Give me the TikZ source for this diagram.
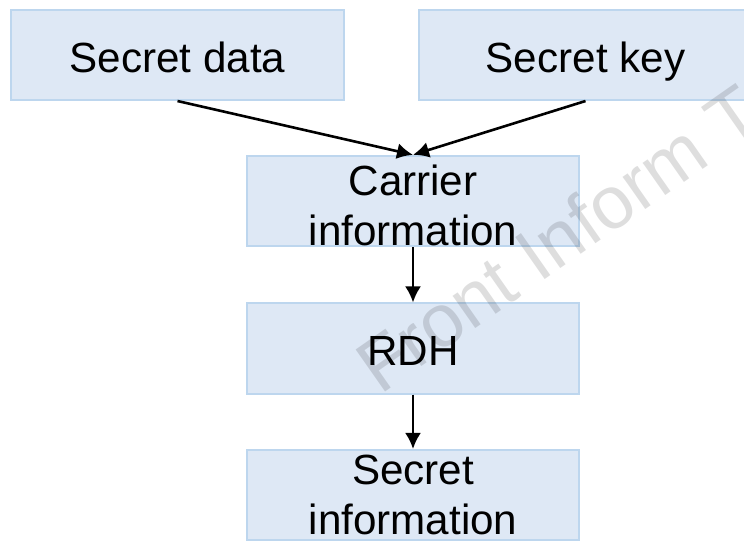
\documentclass[tikz,border=0pt]{standalone}
\usepackage{fontspec}
\setmainfont{Liberation Sans}
\usepackage{tikz}
\usetikzlibrary{arrows.meta}

\definecolor{boxfill}{HTML}{DEE8F5}
\definecolor{boxline}{HTML}{BDD6EE}

\newcommand{\topstrut}{\rule{0pt}{1.0cm}}

\begin{document}
\begin{tikzpicture}[x=0.025cm, y=-0.025cm,
    block/.style={draw=boxline, fill=boxfill, line width=0.05cm, rectangle, inner sep=0pt,
                  minimum width=8.3cm, minimum height=2.25cm, align=center,
                  font=\fontsize{30}{35.5}\selectfont}]
            \tikzset{oneline/.style = {text height=0.85cm, text depth=0cm}}
            \tikzset{edge/.style = {->, > = {Latex[length=0.4cm, width=0.4cm]}, line width=0.065cm}}

            \path[use as bounding box, clip] (0,0) rectangle (744,540);

            \node[block, oneline] (data) at (177.5,55) {Secret data};
            \node[block, oneline] (key) at (585.5,55) {Secret key};

            \node[block] (carrier) at (413,201) {\topstrut Carrier\\information};
            \node[block, oneline] (rdh) at (413,348.5) {RDH};
            \node[block] (info) at (413,495) {Secret\\information};

            \draw [edge] (data.south) to (carrier.north);
            \draw [edge] (key.south) to (carrier.north);
            \draw [edge] (carrier) to (rdh);
            \draw [edge] (rdh) to (info);

            % watermark
            \node[anchor=base west, rotate=35, text=black, opacity=0.13,
                  font=\fontsize{53}{60}\selectfont] (mark) at (376,398) {Front Inform T};

            \end{tikzpicture}
\end{document}
